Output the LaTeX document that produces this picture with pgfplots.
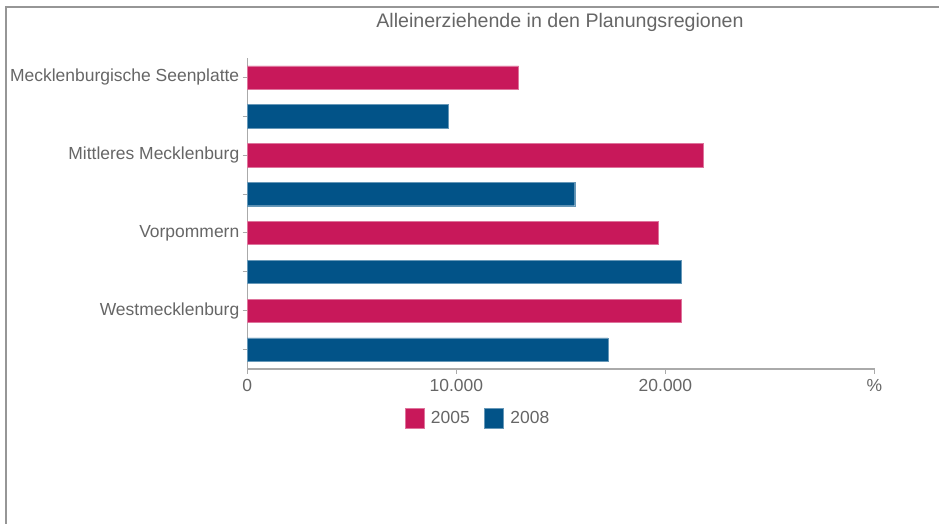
\documentclass[border=0pt]{standalone}
\usepackage{fontspec}
\setmainfont{Liberation Sans}
\usepackage{pgfplots}
\pgfplotsset{compat=1.18}
\definecolor{pinkc}{RGB}{200,24,90}
\definecolor{bluec}{RGB}{2,83,136}
\definecolor{txt}{RGB}{102,102,102}
\definecolor{axc}{RGB}{170,170,170}
\definecolor{frm}{RGB}{150,150,150}
\begin{document}
\begin{tikzpicture}
\path[use as bounding box] (0pt,0pt) rectangle (704.25pt,-393pt);
\draw[color=frm,line width=1.5pt] (4.5pt,-393pt) -- (4.5pt,-4.9pt) -- (704.25pt,-4.9pt);
\begin{axis}[
  at={(185.475pt,-276.75pt)}, anchor=south west,
  scale only axis,
  width=470.4pt, height=233.25pt,
  xbar, bar width=17.5pt, bar shift=0pt,
  xmin=0, xmax=30000,
  ymin=-0.5, ymax=7.5,
  y dir=reverse,
  scaled x ticks=false,
  axis x line*=bottom, axis y line*=left,
  axis line style={color=axc, line width=0.8pt},
  ytick={0,1,2,3,4,5,6,7},
  yticklabels={Mecklenburgische Seenplatte,{},Mittleres Mecklenburg,{},Vorpommern,{},Westmecklenburg,{}},
  xtick={0,10000,20000,30000},
  xticklabels={0,10.000,20.000,\%},
  tick style={color=axc, line width=0.8pt},
  major tick length=3.5pt,
  xtick align=outside, ytick align=outside,
  tick label style={font=\fontsize{13.1pt}{15pt}\selectfont, text=txt},
  yticklabel style={xshift=1pt},
  xticklabel style={yshift=-1pt},
  legend style={at={(0.3685,-0.1576)}, anchor=center, draw=none, legend columns=2,
    font=\fontsize{13.1pt}{15pt}\selectfont, text=txt,
    /tikz/every odd column/.append style={column sep=3pt},
    /tikz/every even column/.append style={column sep=9pt}},
  legend image code/.code={\fill[#1] (0pt,-7.5pt) rectangle (14.25pt,7.5pt);},
  clip=false,
]
\addplot[fill=pinkc, draw=pinkc!60!white, line width=0.3pt] coordinates {(12980,0) (21810,2) (19640,4) (20740,6)};
\addplot[fill=bluec, draw=bluec!60!white, line width=0.3pt] coordinates {(9610,1) (15660,3) (20740,5) (17250,7)};
\legend{2005,2008}
\node[font=\fontsize{14.7pt}{16pt}\selectfont, text=txt] at (axis description cs:0.4986,1.1158) {Alleinerziehende in den Planungsregionen};
\end{axis}
\end{tikzpicture}
\end{document}
